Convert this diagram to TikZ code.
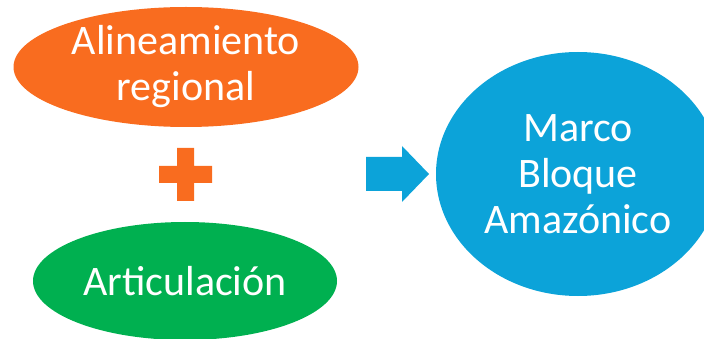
\documentclass[tikz,border=0pt]{standalone}
\usepackage{fontspec}
\setmainfont{Carlito}
\usetikzlibrary{shapes.geometric}
\definecolor{myorange}{RGB}{249,108,31}
\definecolor{mygreen}{RGB}{0,176,80}
\definecolor{myblue}{RGB}{12,163,217}
\tikzset{
  blob/.style={ellipse, inner sep=0pt, draw=none},
  lbl/.style={text=white, align=center, inner sep=0pt, font=\fontsize{42}{46}\selectfont}
}
\begin{document}
\begin{tikzpicture}[x=1pt,y=-1pt]
\useasboundingbox (0,0) rectangle (704,339);
\clip (0,0) rectangle (704,339);
\node[blob, fill=myorange, minimum width=345pt, minimum height=120pt] (alin) at (186,67) {};
\node[lbl] (alintxt) at (alin.center) {Alineamiento\\regional};
\node[blob, fill=mygreen, minimum width=304pt, minimum height=118pt] (art) at (185,281) {};
\node[lbl] (arttxt) at (art.center) {Articulación};
\node[blob, fill=myblue, minimum width=284pt, minimum height=244pt] (marco) at (578,174) {};
\node[lbl] (marcotxt) at (marco.center) {Marco\\Bloque\\Amazónico};
% plus sign
\coordinate (plus) at (185.5,174.5);
\fill[myorange] ([shift={(-8.5,-26.5)}]plus) -- ++(17,0) -- ++(0,18) -- ++(18,0) -- ++(0,17) -- ++(-18,0) -- ++(0,18) -- ++(-17,0) -- ++(0,-18) -- ++(-18,0) -- ++(0,-17) -- ++(18,0) -- cycle;
% block arrow
\coordinate (arr) at (366,174);
\fill[myblue] ([shift={(0,-17)}]arr) -- ++(36,0) -- ++(0,-11) -- ++(27,28) -- ++(-27,28) -- ++(0,-11) -- ++(-36,0) -- cycle;
\end{tikzpicture}
\end{document}
